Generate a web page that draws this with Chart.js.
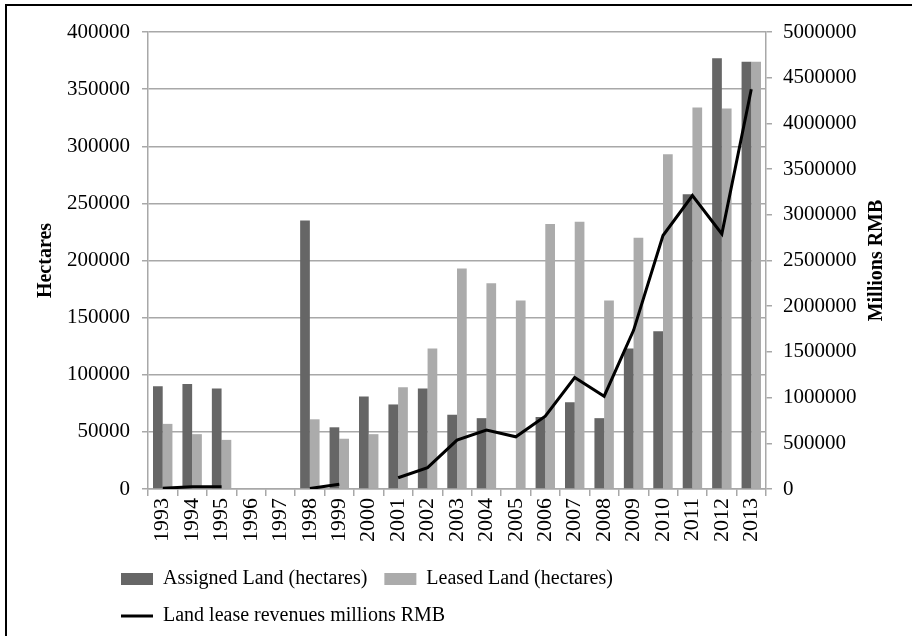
<!DOCTYPE html>
<html>
<head>
<meta charset="utf-8">
<script src="https://cdn.jsdelivr.net/npm/chart.js@4.4.1/dist/chart.umd.min.js"></script>
<style>
  html, body { margin: 0; background: #fff; overflow: hidden; }
  #frame { position: absolute; left: 5px; top: 4px; width: 905px; height: 630px; border-left: 2px solid #000; border-top: 2px solid #000; }
  #wrap { position: absolute; left: 0; top: 0; width: 917px; height: 639px; }
</style>
</head>
<body>
<div id="frame"></div>
<div id="wrap"><canvas id="landChart"></canvas></div>
<script>
// Data
const years = ['1993', '1994', '1995', '1996', '1997', '1998', '1999', '2000', '2001', '2002', '2003',
               '2004', '2005', '2006', '2007', '2008', '2009', '2010', '2011', '2012', '2013'];
const assignedLand = [90000, 92000, 88000, null, null, 235000, 54000, 81000, 74000, 88000, 65000,
                      62000, null, 63000, 76000, 62000, 123000, 138000, 258000, 377000, 374000];
const leasedLand = [57000, 48000, 43000, null, null, 61000, 44000, 48000, 89000, 123000, 193000,
                    180000, 165000, 232000, 234000, 165000, 220000, 293000, 334000, 333000, 374000];
const leaseRevenues = [8000, 25000, 25000, null, null, 5000, 51000, null, 123000, 233000, 535000,
                       644000, 571000, 797000, 1219000, 1015000, 1736000, 2773000, 3210000, 2791000, 4374000];
const hectareTicks = [0, 400000, 50000];     // min, max, step
const rmbTicks = [0, 5000000, 500000];

const serif = '"Liberation Serif", "Times New Roman", serif';
const gridGrey = '#a8a8a8';
const plainNumber = (v) => String(v);   // no thousands separators, like the figure

// right axis title reads bottom-to-top, so draw it by hand
const rightTitle = {
    id: 'rightTitle',
    afterDraw(chart) {
        const c = chart.ctx;
        const area = chart.chartArea;
        c.save();
        c.translate(877, (area.top + area.bottom) / 2);
        c.rotate(-Math.PI / 2);
        c.font = 'bold 20px ' + serif;
        c.fillStyle = '#000';
        c.textAlign = 'center';
        c.textBaseline = 'middle';
        c.fillText('Millions RMB', 0, 0);
        c.restore();
    }
};

// move the legend block to the left edge used in the figure
const legendShift = {
    id: 'legendShift',
    afterLayout(chart) {
        const lg = chart.legend;
        const w = lg.right - lg.left;
        lg.left = 104;
        lg.right = 104 + w;
    }
};

const ctx = document.getElementById('landChart').getContext('2d');
const landChart = new Chart(ctx, {
    type: 'bar',
    data: {
        labels: years,
        datasets: [{
            type: 'line',
            label: 'Land lease revenues millions RMB',
            data: leaseRevenues,
            yAxisID: 'y1',
            borderColor: '#000',
            backgroundColor: '#000',
            borderWidth: 3,
            pointRadius: 0,
            pointStyle: 'line',
            spanGaps: false,
            tension: 0,
            order: 0
        }, {
            label: 'Assigned Land (hectares)',
            data: assignedLand,
            yAxisID: 'y',
            backgroundColor: '#666666',
            pointStyle: 'rect',
            categoryPercentage: 0.66,
            barPercentage: 1,
            order: 1
        }, {
            label: 'Leased Land (hectares)',
            data: leasedLand,
            yAxisID: 'y',
            backgroundColor: '#ababab',
            pointStyle: 'rect',
            categoryPercentage: 0.66,
            barPercentage: 1,
            order: 2
        }]
    },
    options: {
        responsive: true,
        maintainAspectRatio: false,
        animation: false,
        layout: { padding: { top: 32, bottom: 3 } },
        plugins: {
            tooltip: { enabled: false },
            legend: {
                position: 'bottom',
                align: 'start',
                fullSize: false,
                labels: {
                    usePointStyle: true,
                    pointStyleWidth: 32,
                    boxHeight: 12,
                    padding: 17,
                    color: '#000',
                    font: { family: serif, size: 20 },
                    sort: (a, b) => (a.datasetIndex === 0) - (b.datasetIndex === 0)
                }
            }
        },
        scales: {
            x: {
                offset: true,
                grid: { offset: true, drawOnChartArea: false, tickLength: 7, color: gridGrey, lineWidth: 1.5 },
                border: { color: gridGrey, width: 1.5 },
                ticks: {
                    color: '#000',
                    font: { family: serif, size: 22 },
                    minRotation: 90,
                    maxRotation: 90,
                    autoSkip: false,
                    padding: 2
                },
                afterFit: (scale) => { scale.height += 8; }
            },
            y: {
                position: 'left',
                min: hectareTicks[0],
                max: hectareTicks[1],
                grid: { color: gridGrey, lineWidth: 1.5, tickLength: 6 },
                border: { color: gridGrey, width: 1.5 },
                ticks: {
                    stepSize: hectareTicks[2],
                    callback: plainNumber,
                    color: '#000',
                    font: { family: serif, size: 21 },
                    padding: 12
                },
                title: {
                    display: true,
                    text: 'Hectares',
                    color: '#000',
                    font: { family: serif, size: 20, weight: 'bold' },
                    padding: { top: 34 }
                },
                afterFit: (scale) => { scale.width = 148; }
            },
            y1: {
                position: 'right',
                min: rmbTicks[0],
                max: rmbTicks[1],
                grid: { drawOnChartArea: false, color: gridGrey, lineWidth: 1.5, tickLength: 6 },
                border: { color: gridGrey, width: 1.5 },
                ticks: {
                    stepSize: rmbTicks[2],
                    callback: plainNumber,
                    color: '#000',
                    font: { family: serif, size: 21 },
                    padding: 11
                },
                afterFit: (scale) => { scale.width = 151; }
            }
        }
    },
    plugins: [rightTitle, legendShift]
});
</script>
</body>
</html>
